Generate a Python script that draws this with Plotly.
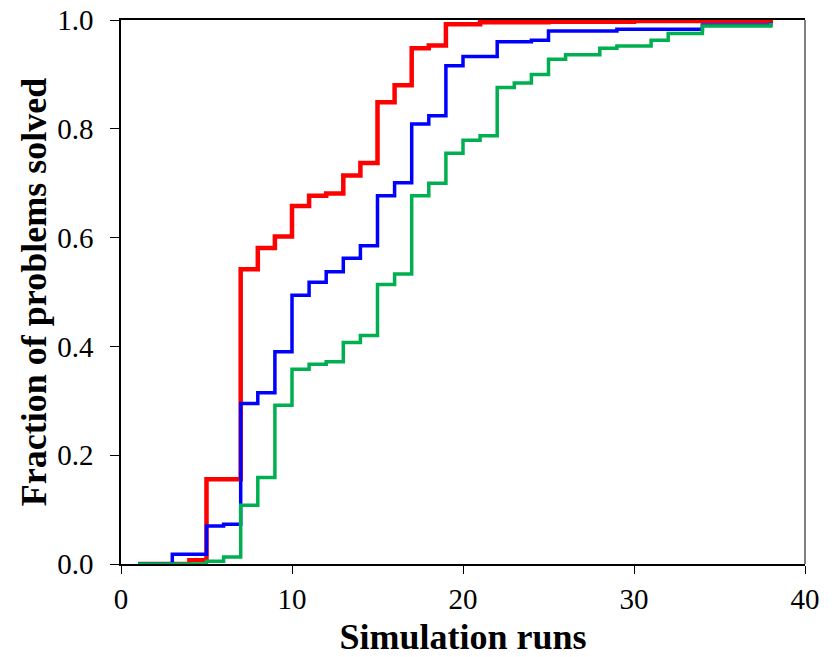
import plotly.graph_objects as go

runs_red = [1, 4, 5, 7, 8, 9, 10, 11, 12, 13, 14, 15, 16, 17, 18, 19, 21, 25, 30, 38]
frac_red = [0.0, 0.007, 0.156, 0.542, 0.581, 0.602, 0.658, 0.677, 0.681, 0.714, 0.737, 0.849, 0.880, 0.948, 0.953, 0.992, 0.996, 0.997, 0.998, 1.0]

runs_blue = [1, 3, 5, 6, 7, 8, 9, 10, 11, 12, 13, 14, 15, 16, 17, 18, 19, 20, 22, 24, 25, 29, 34, 38]
frac_blue = [0.0, 0.018, 0.070, 0.073, 0.295, 0.315, 0.390, 0.494, 0.518, 0.537, 0.562, 0.585, 0.677, 0.701, 0.809, 0.824, 0.916, 0.933, 0.960, 0.963, 0.980, 0.983, 0.991, 0.996]

runs_green = [1, 5, 6, 7, 8, 9, 10, 11, 12, 13, 14, 15, 16, 17, 18, 19, 20, 21, 22, 23, 24, 25, 26, 28, 29, 31, 32, 34, 38]
frac_green = [0.0, 0.005, 0.013, 0.108, 0.159, 0.292, 0.358, 0.367, 0.372, 0.407, 0.420, 0.514, 0.533, 0.677, 0.700, 0.755, 0.779, 0.787, 0.876, 0.884, 0.900, 0.928, 0.936, 0.948, 0.952, 0.963, 0.975, 0.989, 0.995]

x_ticks = [0, 10, 20, 30, 40]
y_ticks = [0.0, 0.2, 0.4, 0.6, 0.8, 1.0]

fig = go.Figure()
fig.add_trace(go.Scatter(x=runs_red, y=frac_red, mode="lines", hoverinfo="skip", line=dict(color="#FF0000", width=4.5, shape="hv"), showlegend=False))
fig.add_trace(go.Scatter(x=runs_blue, y=frac_blue, mode="lines", hoverinfo="skip", line=dict(color="#0000FF", width=3.5, shape="hv"), showlegend=False))
fig.add_trace(go.Scatter(x=runs_green, y=frac_green, mode="lines", hoverinfo="skip", line=dict(color="#00B050", width=3.5, shape="hv"), showlegend=False))

font_family = "Times New Roman"
fig.update_layout(
    width=833, height=657,
    margin=dict(l=121, r=28, t=20, b=93, autoexpand=False),
    paper_bgcolor="white", plot_bgcolor="white",
    font=dict(family=font_family, color="black", size=22),
    xaxis=dict(
        range=[0, 40], tickvals=x_ticks, ticktext=[str(v) for v in x_ticks],
        showgrid=False, zeroline=False, showline=True, linecolor="black", linewidth=1.5,
        mirror=True, ticks="outside", ticklen=8, tickcolor="black",
        tickfont=dict(size=29), automargin=False, ticklabelstandoff=0,
        title=dict(text="<b>Simulation runs</b>", font=dict(size=36), standoff=10),
    ),
    yaxis=dict(
        range=[0, 1.0], tickvals=y_ticks, ticktext=["%.1f" % v for v in y_ticks],
        showgrid=False, zeroline=False, showline=True, linecolor="black", linewidth=1.5,
        ticks="outside", ticklen=9, tickcolor="black",
        tickfont=dict(size=29), automargin=False, ticklabelstandoff=11,
        title=dict(text="<b>Fraction of problems solved</b>", font=dict(size=36), standoff=0),
    ),
    shapes=[dict(type="line", xref="paper", yref="paper", x0=1, x1=1, y0=0, y1=1,
                 line=dict(color="#808080", width=2))],
)

fig.write_html("out.html", config={"displayModeBar": False},
               post_script="document.body.style.margin='0px';")
